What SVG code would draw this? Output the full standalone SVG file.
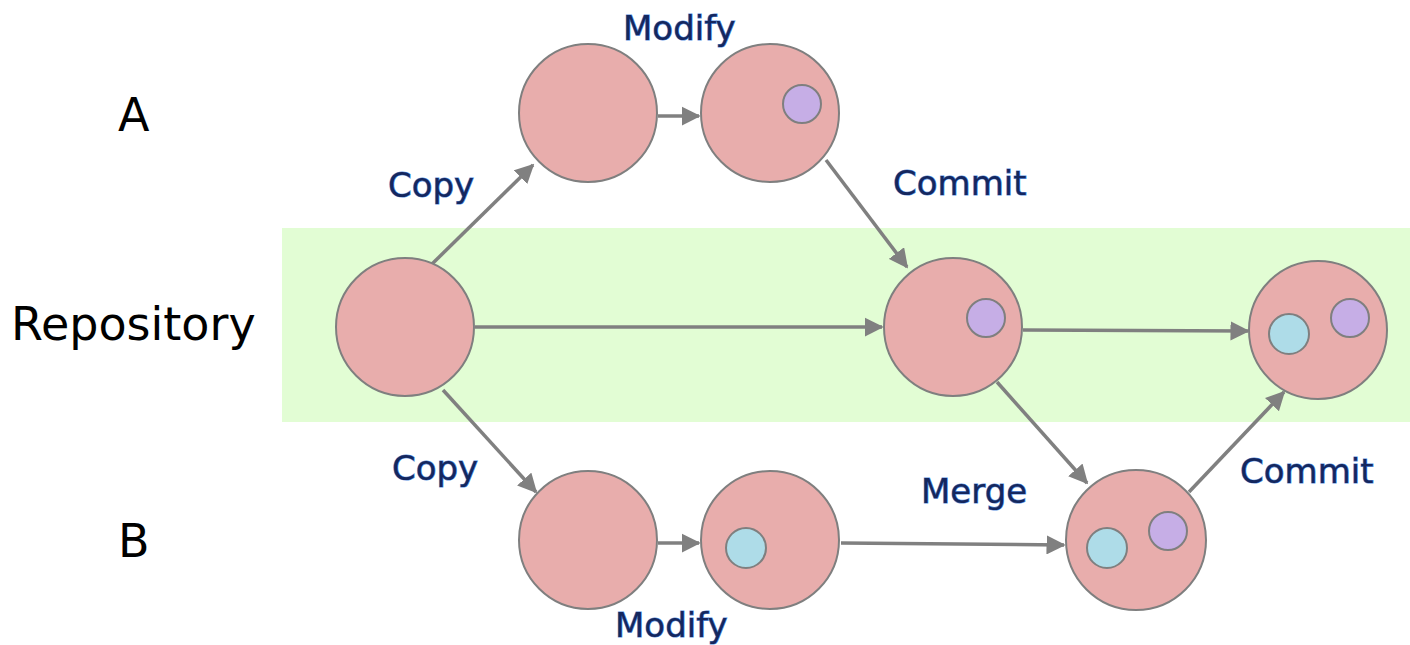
<svg xmlns="http://www.w3.org/2000/svg" width="1410" height="645" viewBox="0 0 1410 645">
<defs>
<marker id="ah" markerWidth="5.5" markerHeight="5.5" refX="5" refY="2.75" orient="auto" markerUnits="strokeWidth">
<path d="M0,0 L5.5,2.75 L0,5.5 Z" fill="#808080"/>
</marker>
<style>
.big{font-family:"DejaVu Sans",Verdana,sans-serif;font-size:46px;fill:#000}
.lbl{font-family:"DejaVu Sans",Verdana,sans-serif;font-size:34px;fill:#14275e;stroke:#5a90e0;stroke-width:1.1px;paint-order:stroke}
.node{fill:#e8adac;stroke:#7f7f7f;stroke-width:2}
.pur{fill:#c6aee6;stroke:#7f7f7f;stroke-width:2}
.blu{fill:#aedce8;stroke:#7f7f7f;stroke-width:2}
.con line{stroke:#808080;stroke-width:3.5;marker-end:url(#ah);fill:none}
</style>
</defs>
<rect x="282" y="228" width="1128" height="194" fill="#e2fdd4"/>
<text class="big" x="118" y="131">A</text>
<text class="big" x="11" y="340">Repository</text>
<text class="big" x="118" y="557">B</text>
<g id="connectors" class="con">
<line x1="432" y1="264" x2="533" y2="165"/>
<line x1="658" y1="116" x2="699" y2="116"/>
<line x1="826" y1="160" x2="907" y2="267"/>
<line x1="475" y1="327" x2="882" y2="327"/>
<line x1="1023" y1="330" x2="1248" y2="331"/>
<line x1="443" y1="390" x2="536" y2="492"/>
<line x1="658" y1="543" x2="699" y2="543"/>
<line x1="841" y1="543" x2="1064" y2="545"/>
<line x1="997" y1="382" x2="1087" y2="483"/>
<line x1="1189" y1="492" x2="1284" y2="392"/>
</g>
<g id="repo1"><circle class="node" cx="405" cy="327" r="69"/></g>
<g id="a1"><circle class="node" cx="588" cy="113" r="69"/></g>
<g id="a2"><circle class="node" cx="770" cy="113" r="69"/><circle class="pur" cx="802" cy="104" r="19"/></g>
<g id="repo2"><circle class="node" cx="953" cy="327" r="69"/><circle class="pur" cx="986" cy="318" r="19"/></g>
<g id="repo3"><circle class="node" cx="1318" cy="330" r="69"/><circle class="blu" cx="1289" cy="334" r="20"/><circle class="pur" cx="1350" cy="318" r="19"/></g>
<g id="b1"><circle class="node" cx="588" cy="540" r="69"/></g>
<g id="b2"><circle class="node" cx="770" cy="540" r="69"/><circle class="blu" cx="746" cy="548" r="20"/></g>
<g id="merge"><circle class="node" cx="1136" cy="540" r="70"/><circle class="blu" cx="1107" cy="548" r="20"/><circle class="pur" cx="1168" cy="531" r="19"/></g>
<g id="labels">
<text class="lbl" x="623" y="40">Modify</text>
<text class="lbl" x="388" y="197">Copy</text>
<text class="lbl" x="893" y="195">Commit</text>
<text class="lbl" x="392" y="480">Copy</text>
<text class="lbl" x="921" y="503">Merge</text>
<text class="lbl" x="1240" y="483">Commit</text>
<text class="lbl" x="615" y="637">Modify</text>
</g>
</svg>
